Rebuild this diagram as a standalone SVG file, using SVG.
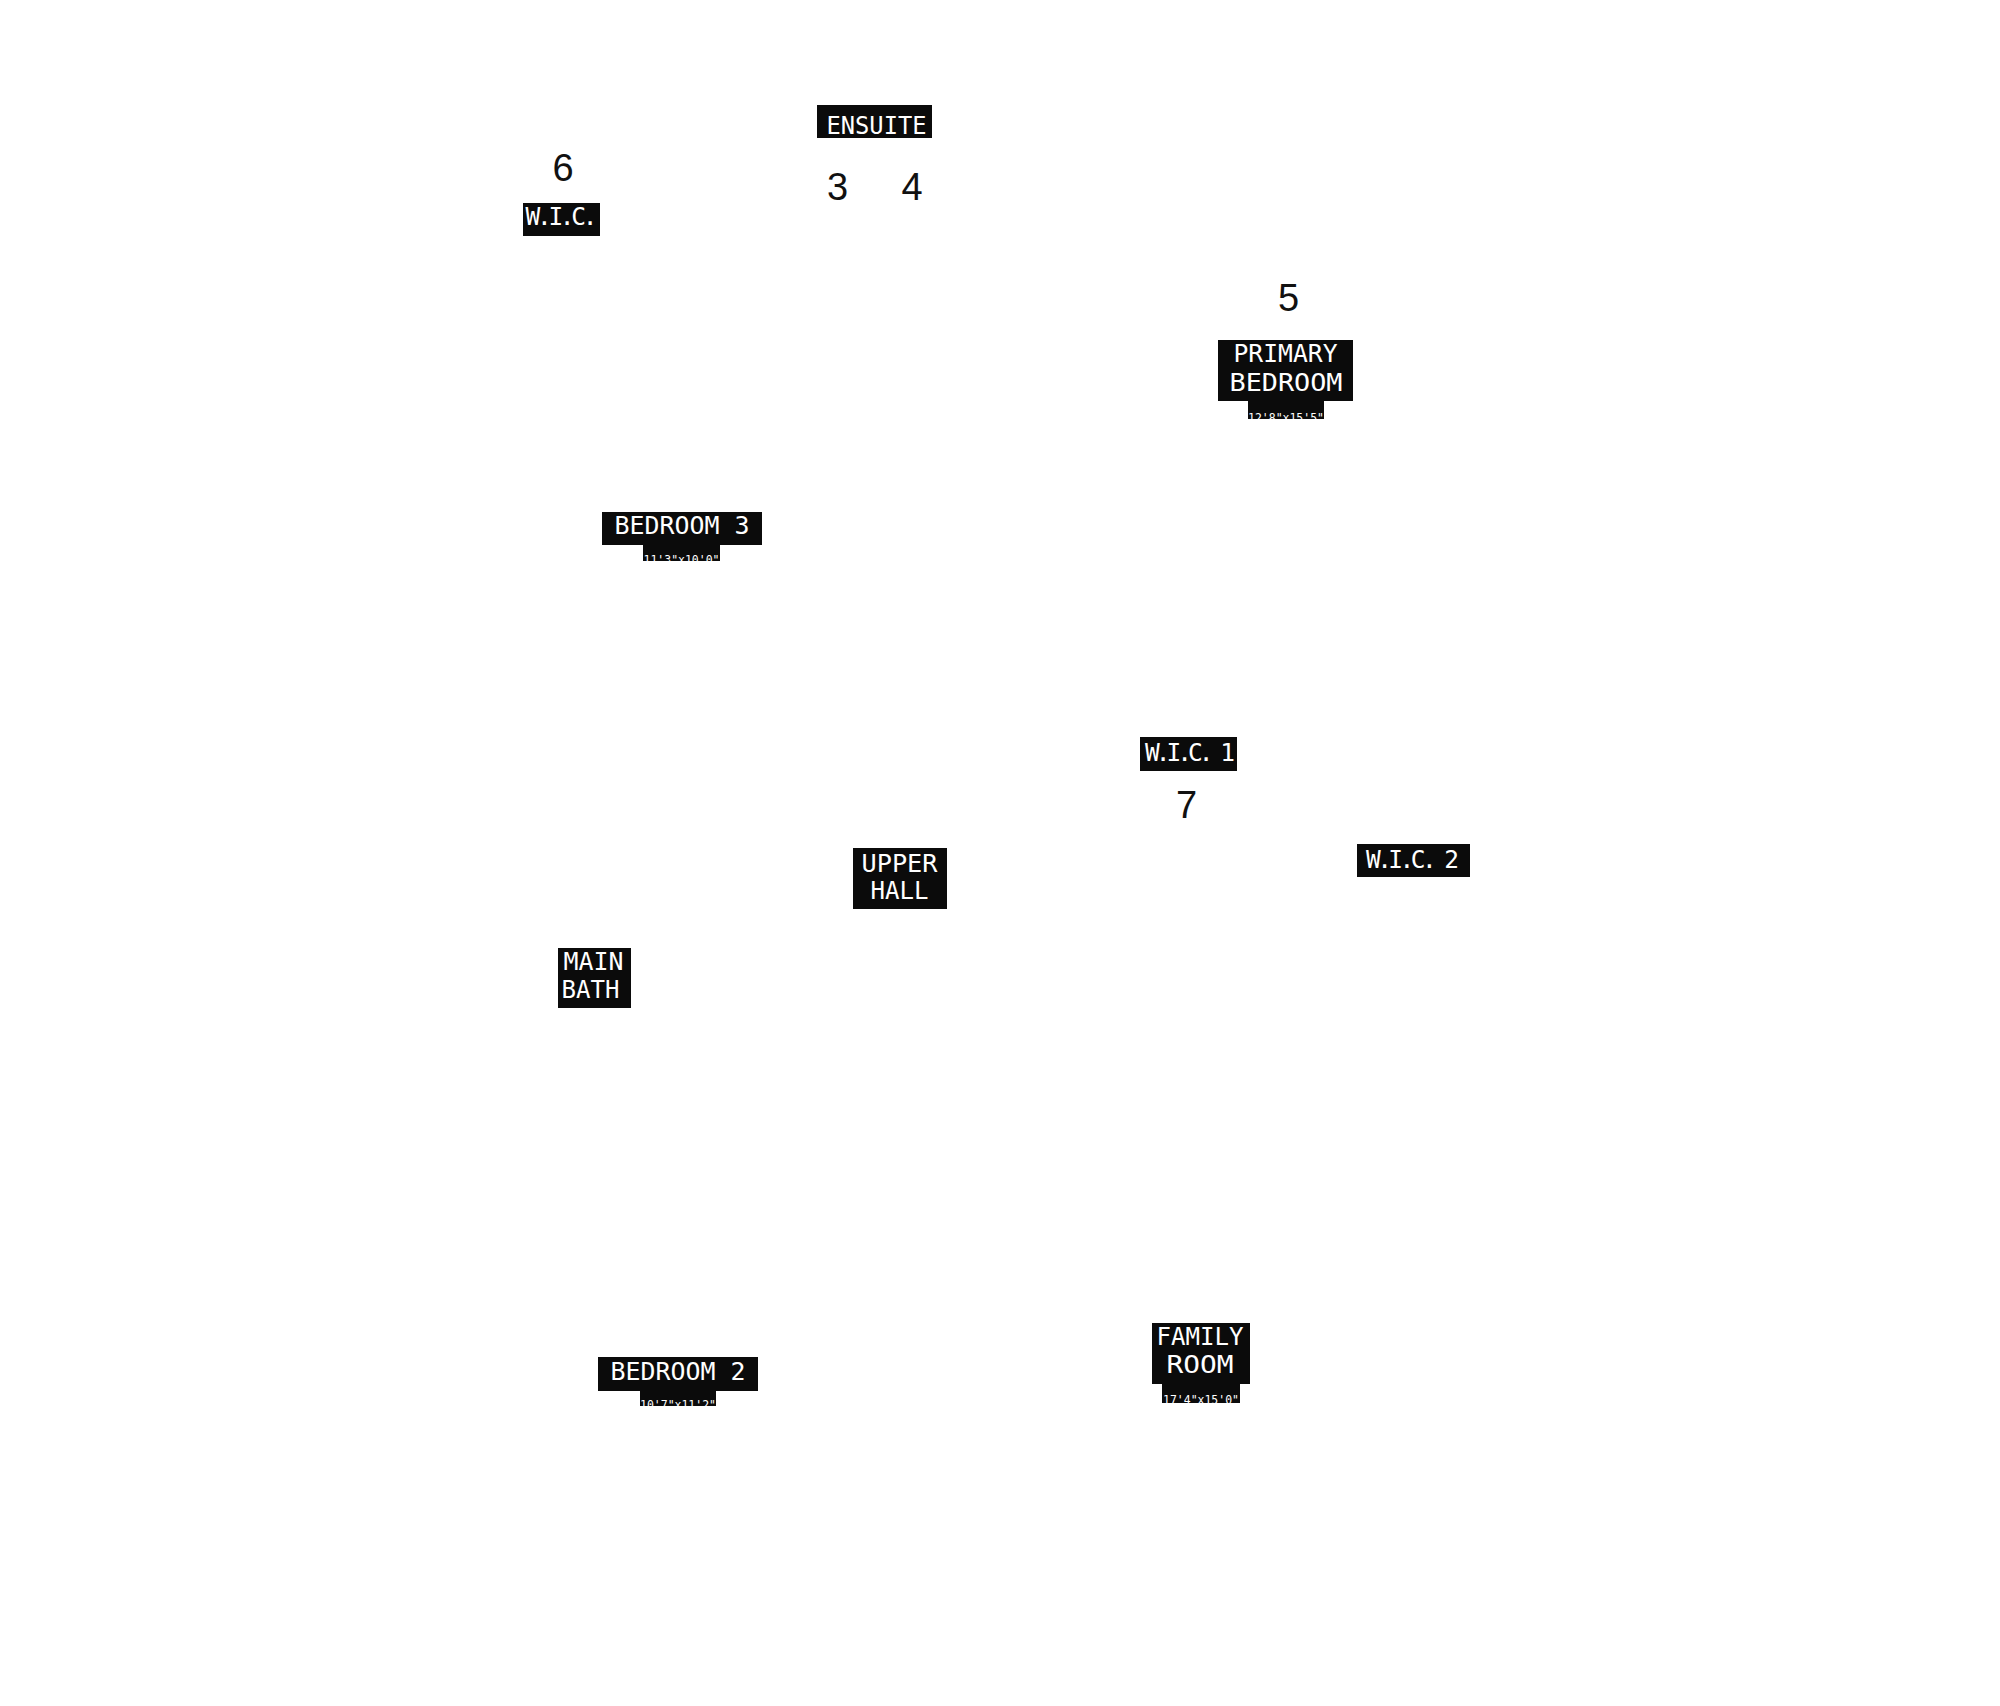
<svg xmlns="http://www.w3.org/2000/svg" width="2000" height="1706" viewBox="0 0 2000 1706">
<style>
.bg{fill:#ffffff}
.box{fill:#0b0b0b}
.lbl{font-family:"DejaVu Sans Mono","Liberation Mono",monospace;font-size:24.5px;fill:#ffffff;text-anchor:middle}
.dim{font-family:"DejaVu Sans Mono","Liberation Mono",monospace;font-size:11.6px;fill:#ffffff;text-anchor:middle}
.num{font-family:"Liberation Sans",Arial,sans-serif;font-size:38px;fill:#111111;text-anchor:middle}
</style>
<rect class="bg" x="0" y="0" width="2000" height="1706"/>
<g id="connectors"></g>
<g id="wic">
<text class="num" x="563" y="181">6</text>
<rect class="box" x="523" y="203" width="77" height="33"/>
<text class="lbl" x="561.5" y="225" textLength="72" lengthAdjust="spacing">W.I.C.</text>
</g>
<g id="ensuite">
<rect class="box" x="817" y="105" width="115" height="33"/>
<text class="lbl" x="876.5" y="134" textLength="100" lengthAdjust="spacingAndGlyphs">ENSUITE</text>
<text class="num" x="837.5" y="200">3</text>
<text class="num" x="912" y="200">4</text>
</g>
<g id="primary-bedroom">
<text class="num" x="1288.5" y="311">5</text>
<rect class="box" x="1218" y="340" width="135" height="61"/>
<text class="lbl" x="1285.5" y="362" textLength="104" lengthAdjust="spacingAndGlyphs">PRIMARY</text>
<text class="lbl" x="1286" y="391" textLength="113" lengthAdjust="spacingAndGlyphs">BEDROOM</text>
<rect class="box" x="1248" y="401" width="76" height="18"/>
<text class="dim" x="1286" y="422" textLength="76" lengthAdjust="spacingAndGlyphs">12'8"x15'5"</text>
</g>
<g id="bedroom-3">
<rect class="box" x="602" y="512" width="160" height="33"/>
<text class="lbl" x="682" y="534" textLength="135" lengthAdjust="spacingAndGlyphs">BEDROOM 3</text>
<rect class="box" x="643" y="545" width="77" height="16"/>
<text class="dim" x="681.5" y="563.5" textLength="76" lengthAdjust="spacingAndGlyphs">11'3"x10'0"</text>
</g>
<g id="wic-1">
<rect class="box" x="1140" y="737" width="97" height="34"/>
<text class="lbl" x="1190" y="761" textLength="90" lengthAdjust="spacing">W.I.C. 1</text>
<text class="num" x="1186.5" y="818">7</text>
</g>
<g id="wic-2">
<rect class="box" x="1357" y="844" width="113" height="33"/>
<text class="lbl" x="1412.5" y="868" textLength="93" lengthAdjust="spacing">W.I.C. 2</text>
</g>
<g id="upper-hall">
<rect class="box" x="853" y="848" width="94" height="61"/>
<text class="lbl" x="899.5" y="872" textLength="76" lengthAdjust="spacingAndGlyphs">UPPER</text>
<text class="lbl" x="899.5" y="899" textLength="58" lengthAdjust="spacingAndGlyphs">HALL</text>
</g>
<g id="main-bath">
<rect class="box" x="558" y="948" width="73" height="60"/>
<text class="lbl" x="593.5" y="970" textLength="60" lengthAdjust="spacingAndGlyphs">MAIN</text>
<text class="lbl" x="590.5" y="998" textLength="58" lengthAdjust="spacingAndGlyphs">BATH</text>
</g>
<g id="bedroom-2">
<rect class="box" x="598" y="1357" width="160" height="34"/>
<text class="lbl" x="678" y="1380" textLength="135" lengthAdjust="spacingAndGlyphs">BEDROOM 2</text>
<rect class="box" x="640" y="1391" width="76" height="15"/>
<text class="dim" x="678" y="1408.5" textLength="76" lengthAdjust="spacingAndGlyphs">10'7"x11'2"</text>
</g>
<g id="family-room">
<rect class="box" x="1152" y="1323" width="98" height="61"/>
<text class="lbl" x="1200" y="1345" textLength="87" lengthAdjust="spacingAndGlyphs">FAMILY</text>
<text class="lbl" x="1200" y="1373" textLength="67" lengthAdjust="spacingAndGlyphs">ROOM</text>
<rect class="box" x="1162" y="1384" width="78" height="19"/>
<text class="dim" x="1201" y="1403.5" textLength="76" lengthAdjust="spacingAndGlyphs">17'4"x15'0"</text>
</g>
</svg>
